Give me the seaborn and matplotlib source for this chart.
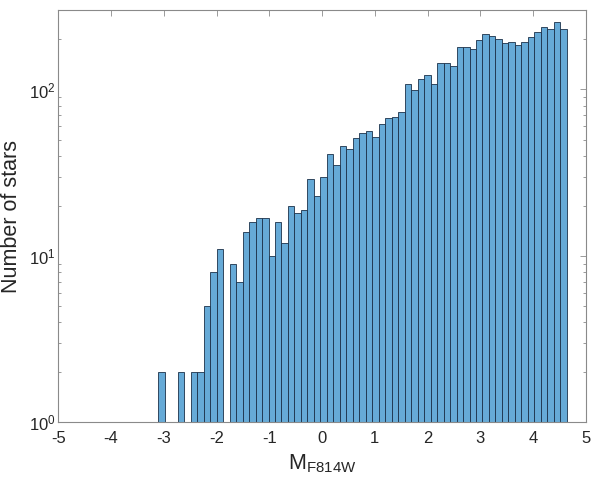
import numpy as np
import pandas as pd
import matplotlib
matplotlib.use("Agg")
import matplotlib.pyplot as plt
import seaborn as sns
from matplotlib.ticker import LogLocator, FixedLocator

# ---- data ----
bin_lo = -3.104
bin_hi = 4.64
counts = [2, 0, 0, 2, 0, 2, 2, 5, 8, 11,
          0, 9, 7, 14, 16, 17, 17, 10, 16, 12,
          20, 18, 19, 29, 23, 30, 41, 35, 46, 44,
          51, 55, 56, 52, 62, 67, 68, 73, 108, 99,
          115, 122, 108, 144, 144, 138, 180, 180, 175, 197,
          216, 210, 200, 189, 194, 185, 194, 206, 223, 237,
          232, 253, 232]
xticks = [-5, -4, -3, -2, -1, 0, 1, 2, 3, 4, 5]
xlabel = r"M$_{\mathregular{F814W}}$"
ylabel = "Number of stars"

edges = np.linspace(bin_lo, bin_hi, len(counts) + 1)
centers = (edges[:-1] + edges[1:]) / 2
df = pd.DataFrame({"mag": centers, "n": counts})

sns.set_theme(style="white")
plt.rcParams["font.family"] = ["Liberation Sans", "DejaVu Sans"]
plt.rcParams["mathtext.fontset"] = "custom"
plt.rcParams["mathtext.rm"] = "Liberation Sans"
plt.rcParams["mathtext.it"] = "Liberation Sans:italic"
plt.rcParams["mathtext.bf"] = "Liberation Sans:bold"

fig = plt.figure(figsize=(5.96, 4.80), dpi=100)
ax = fig.add_axes([0.0978, 0.120, 0.885, 0.859])

sns.histplot(data=df, x="mag", weights="n", bins=list(edges), ax=ax,
             color="#66AAD7", alpha=1.0, edgecolor="#1b3149", linewidth=0.6)

ax.set_yscale("log")
ax.set_xlim(-5, 5)
ax.set_ylim(1, 300)
ax.xaxis.set_major_locator(FixedLocator(xticks))
ax.set_xticklabels([str(t) for t in xticks])
ax.yaxis.set_major_locator(LogLocator(base=10, numticks=10))
ax.yaxis.set_minor_locator(LogLocator(base=10, subs=np.arange(2, 10), numticks=10))

axcol = "#8a8a8a"
for s in ax.spines.values():
    s.set_visible(True)
    s.set_color(axcol)
    s.set_linewidth(0.8)
ax.tick_params(axis="both", which="both", direction="in", top=True, right=True,
               color=axcol, labelcolor="#262626", labelsize=12)
ax.tick_params(axis="both", which="major", length=4, width=0.6)
ax.tick_params(axis="x", which="major", pad=6)
ax.tick_params(axis="y", which="major", pad=2)
ax.tick_params(axis="y", which="minor", length=2.5, width=0.6, left=True, right=True)
ax.tick_params(axis="x", which="minor", bottom=False, top=False)

ax.set_xlabel(xlabel, fontsize=15.5, color="#262626", labelpad=5)
ax.set_ylabel(ylabel, fontsize=15.5, color="#262626")
ax.yaxis.set_label_coords(-0.068, 0.5)
ax.grid(False)

fig.savefig("out.png", dpi=100)
